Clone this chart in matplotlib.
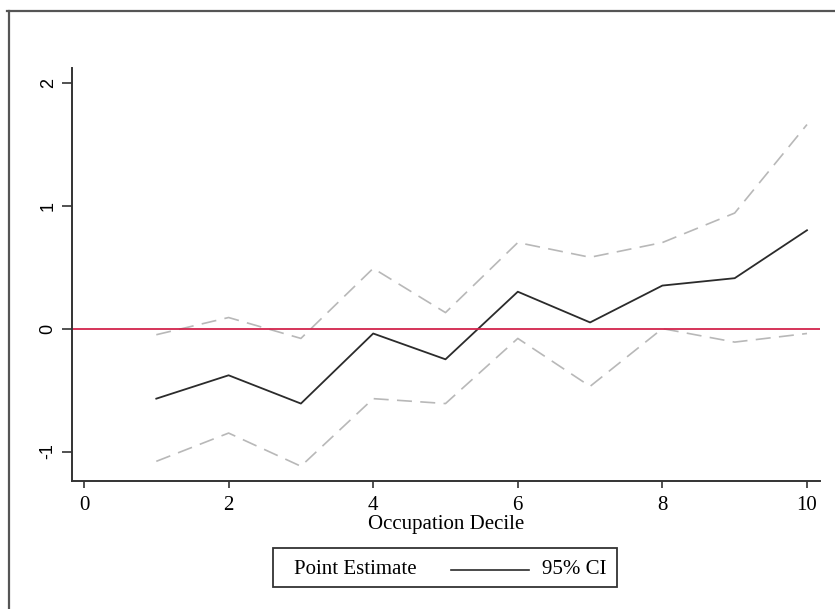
import matplotlib

matplotlib.use("Agg")
import matplotlib.pyplot as plt
from matplotlib.lines import Line2D
from matplotlib.patches import Rectangle

# values
deciles = [1, 2, 3, 4, 5, 6, 7, 8, 9, 10]
point_est = [-0.57, -0.38, -0.61, -0.04, -0.25, 0.30, 0.05, 0.35, 0.41, 0.80]
ci_upper = [-0.05, 0.09, -0.08, 0.49, 0.13, 0.70, 0.58, 0.70, 0.94, 1.66]
ci_lower = [-1.08, -0.85, -1.12, -0.57, -0.61, -0.08, -0.47, 0.00, -0.11, -0.04]
x_ticks = [0, 2, 4, 6, 8, 10]
y_ticks = [-1, 0, 1, 2]

W, H = 835, 609
fig = plt.figure(figsize=(W / 100, H / 100), dpi=100)
ax = fig.add_axes([72 / W, 1 - 481 / H, (820 - 72) / W, (481 - 68) / H])

dash = (0, (9, 5))
ax.plot(deciles, ci_upper, color="#b8b8b8", lw=1.2, linestyle=dash)
ax.plot(deciles, ci_lower, color="#b8b8b8", lw=1.2, linestyle=dash)
ax.plot(deciles, point_est, color="#2b2b2b", lw=1.3)
ax.axhline(0, color="#d2244c", lw=1.3)

ax.set_xlim(-0.166, 10.18)
ax.set_ylim(-1.24, 2.12)

for s in ["top", "right"]:
    ax.spines[s].set_visible(False)
for s in ["left", "bottom"]:
    ax.spines[s].set_color("#333333")
    ax.spines[s].set_linewidth(1.4)

ax.set_xticks(x_ticks)
ax.set_yticks(y_ticks)
ax.set_xticklabels([str(t) for t in x_ticks], family="Liberation Serif", fontsize=15)
ax.set_yticklabels([str(t) for t in y_ticks], family="Liberation Sans", fontsize=13,
                   rotation=90, va="center")
ax.tick_params(axis="x", length=5, width=1.2, color="#333333", pad=6)
ax.tick_params(axis="y", length=7, width=1.2, color="#333333", pad=4)

ax.set_xlabel("Occupation Decile", family="Liberation Serif", fontsize=15, labelpad=0)

# legend box drawn by hand to match the odd key layout
fig.patches.append(Rectangle((273 / W, 1 - 587 / H), (617 - 273) / W, (587 - 548) / H,
                             transform=fig.transFigure, fill=False,
                             edgecolor="#333333", lw=1.3))
fig.text(294 / W, 1 - 569 / H, "Point Estimate", family="Liberation Serif",
         fontsize=15, va="center", ha="left")
fig.lines.append(Line2D([451 / W, 529 / W], [1 - 570 / H, 1 - 570 / H],
                        transform=fig.transFigure, color="#2b2b2b", lw=1.2))
fig.text(542 / W, 1 - 569 / H, "95% CI", family="Liberation Serif",
         fontsize=15, va="center", ha="left")

# outer frame (only top and left edges show in the reference)
fig.lines.append(Line2D([7 / W, 1], [1 - 11 / H, 1 - 11 / H],
                        transform=fig.transFigure, color="#555555", lw=1.6))
fig.lines.append(Line2D([9 / W, 9 / W], [0, 1 - 11 / H],
                        transform=fig.transFigure, color="#555555", lw=1.6))

plt.savefig("out.png", dpi=100)
